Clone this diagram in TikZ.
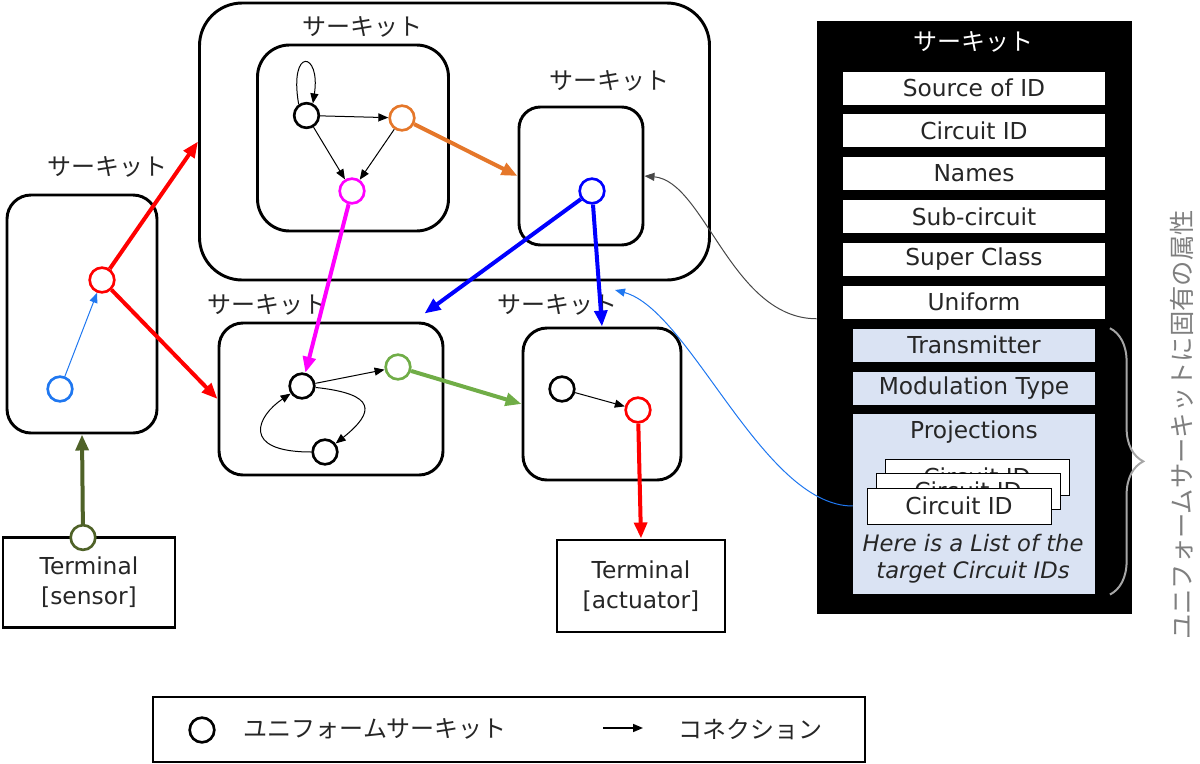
\documentclass[tikz,border=0pt]{standalone}
\usepackage{fontspec}
\setmainfont{DejaVu Sans}
\newfontfamily\jpfont{Noto Sans CJK JP}
\usetikzlibrary{arrows.meta,decorations.pathreplacing,fit}
\definecolor{ink}{HTML}{262626}
\definecolor{redc}{HTML}{FF0000}
\definecolor{orangec}{HTML}{E5772A}
\definecolor{magc}{HTML}{FF00FF}
\definecolor{bluec}{HTML}{0000FF}
\definecolor{ltblue}{HTML}{1F77F0}
\definecolor{greenc}{HTML}{70AD47}
\definecolor{olivec}{HTML}{4F6228}
\definecolor{rowblue}{HTML}{DAE3F3}
\definecolor{bracegray}{HTML}{A6A6A6}
\definecolor{notegray}{HTML}{7F7F7F}
\tikzset{
  flow/.style={
    -{Triangle[length=7.5pt,width=6pt]},
    draw=black,
    line width=0.75pt
  },
  bigflow/.style={
    -{Triangle[length=12pt,width=9.5pt]},
    line width=3pt
  },
  circuit/.style={
    draw,
    rounded corners=18pt,
    line width=2.2pt,
    inner sep=0pt
  },
  uc/.style={
    circle,
    draw=black,
    line width=2pt,
    fill=white,
    minimum size=18.5pt,
    inner sep=0pt
  },
  jplabel/.style={
    font=\jpfont\fontsize{18}{20}\selectfont,
    text=ink
  },
  attr/.style={
    fill=white,
    minimum width=196.5pt,
    minimum height=24.75pt,
    inner sep=0pt,
    font=\fontsize{17.5}{20}\selectfont,
    text=ink
  },
  uattr/.style={
    attr,
    fill=rowblue,
    minimum width=181.5pt
  },
  card/.style={
    draw=black,
    line width=0.75pt,
    fill=white,
    minimum width=138pt,
    minimum height=27pt,
    inner sep=0pt,
    font=\fontsize{17.5}{20}\selectfont,
    text=ink
  },
  terminal/.style={
    draw,
    line width=2.2pt,
    align=center,
    inner sep=0pt,
    font=\fontsize{17.5}{22.5}\selectfont,
    text=ink
  }
}

\begin{document}
\begin{tikzpicture}[x=0.75pt,y=-0.75pt]
  \useasboundingbox (0,0) rectangle (1200,764);

  % ------------------------------------------------------------
  % left circuit + sensor terminal
  % ------------------------------------------------------------
  \node[circuit, fit={(7,195) (157,433)}] (cirA) {};
  \node[jplabel] (cirA_lbl) at (107,167) {サーキット};
  \node[uc, draw=redc] (ucA1) at (102,280) {};
  \node[uc, draw=ltblue] (ucA2) at (60,389) {};

  \node[terminal, minimum width=129pt, minimum height=68pt]
       (termS) at (89,582.5) {Terminal\\{[sensor]}};
  \node[uc, draw=olivec] (ucS) at (83,537.5) {};

  % ------------------------------------------------------------
  % top group with two sub-circuits
  % ------------------------------------------------------------
  \node[circuit, rounded corners=32pt, fit={(199.5,3) (709.5,280)}] (grpTop) {};

  \node[circuit, rounded corners=24pt, fit={(257.5,45) (448.5,231)}] (cirB) {};
  \node[jplabel] (cirB_lbl) at (362,27) {サーキット};
  \node[uc] (ucB1) at (306.5,115.5) {};
  \node[uc, draw=orangec] (ucB2) at (402,118) {};
  \node[uc, draw=magc] (ucB3) at (352,191) {};

  \node[circuit, rounded corners=16pt, fit={(519,107) (643,245)}] (cirC) {};
  \node[jplabel] (cirC_lbl) at (609,81) {サーキット};
  \node[uc, draw=bluec] (ucC1) at (592,191) {};

  % ------------------------------------------------------------
  % middle circuits + actuator terminal
  % ------------------------------------------------------------
  \node[circuit, fit={(219,323) (443,475)}] (cirD) {};
  \node[jplabel] (cirD_lbl) at (267,305) {サーキット};
  \node[uc] (ucD1) at (302,386) {};
  \node[uc, draw=greenc] (ucD2) at (398,367) {};
  \node[uc] (ucD3) at (325,452) {};

  \node[circuit, fit={(523,328) (681,480)}] (cirE) {};
  \node[jplabel] (cirE_lbl) at (557,305) {サーキット};
  \node[uc] (ucE1) at (562,389) {};
  \node[uc, draw=redc] (ucE2) at (638,410) {};
  \coordinate (cirE_in) at (615,290);

  \node[terminal, minimum width=126pt, minimum height=69pt]
       (termA) at (641,586) {Terminal\\{[actuator]}};

  % ------------------------------------------------------------
  % attribute panel
  % ------------------------------------------------------------
  \node[fill=black, inner sep=0pt, fit={(817,21) (1132,614)}] (panel) {};
  \node[jplabel, text=white] (panel_ttl) at (973,42) {サーキット};

  \node[attr] (aSrc) at (974,88) {Source of ID};
  \node[attr] (aCid) at (974,130.8) {Circuit ID};
  \node[attr] (aNam) at (974,173.6) {Names};
  \node[attr] (aSub) at (974,216.4) {Sub-circuit};
  \node[attr] (aSup) at (974,259.2) {Super Class};
  \node[attr] (aUni) at (974,302) {Uniform};

  \node[uattr] (aTx) at (974,345) {Transmitter};
  \node[uattr] (aMod) at (974,388) {Modulation Type};
  \node[uattr, minimum height=135pt, anchor=north] (aPrj) at (974,414) {};
  \node[font=\fontsize{17.5}{20}\selectfont, text=ink] (aPrj_ttl) at (974,432) {Projections};

  % stacked cards: the front ones hide the back ones, as drawn
  \node[card] (card3) at (977,477) {Circuit ID};
  \node[card] (card2) at (968,491) {Circuit ID};
  \node[card] (card1) at (959,506) {Circuit ID};

  \node[align=center, font=\itshape\fontsize{17}{20.25}\selectfont, text=ink]
       (prjNote) at (973,558.5) {Here is a List of the\\target Circuit IDs};

  % brace + vertical note
  \draw[decorate, decoration={brace, amplitude=25pt}, draw=bracegray, line width=1.5pt]
       ([xshift=11pt]aTx.north east) -- ([xshift=11pt]aPrj.south east);
  \node[font=\jpfont\fontsize{19}{21}\selectfont, text=notegray, rotate=90]
       (attrNote) at (1182,425) {ユニフォームサーキットに固有の属性};

  % ------------------------------------------------------------
  % connections
  % ------------------------------------------------------------
  \draw[flow, draw=ltblue] (ucA2) -- (ucA1);
  \draw[bigflow, draw=redc] (ucA1) -- (grpTop.west);
  \draw[bigflow, draw=redc] (ucA1) -- (cirD.west);
  \draw[bigflow, draw=olivec] (ucS) -- (cirA.south);

  \draw[flow] (ucB1.125) .. controls +(-10,-58) and +(8,-52) .. (ucB1.62);
  \draw[flow] (ucB1) -- (ucB2);
  \draw[flow] (ucB1) -- (ucB3);
  \draw[flow] (ucB2) -- (ucB3);
  \draw[bigflow, draw=orangec] (ucB2) -- (cirC.west);
  \draw[bigflow, draw=magc] (ucB3) -- (ucD1);

  \draw[bigflow, draw=bluec] (ucC1) -- ([xshift=-15pt,yshift=6pt]cirD.north east);
  \draw[bigflow, draw=bluec] (ucC1) -- (cirE.north);

  \draw[flow] (ucD1) -- (ucD2);
  \draw[flow] (ucD1) .. controls +(75,8) and +(50,-40) .. (ucD3);
  \draw[flow] (ucD3) .. controls +(-85,0) and +(-45,30) .. (ucD1);
  \draw[bigflow, draw=greenc] (ucD2) -- (cirE.west);

  \draw[flow] (ucE1) -- (ucE2);
  \draw[bigflow, draw=redc] (ucE2) -- (termA.north);

  % panel -> circuits
  \draw[flow, draw=ink!85] (panel.west |- aUni.south)
       .. controls +(-85,0) and +(60,5) .. (cirC.east);
  \draw[flow, draw=ltblue] (aPrj.west |- card1)
       .. controls +(-90,0) and +(75,20) .. (cirE_in);

  % ------------------------------------------------------------
  % legend
  % ------------------------------------------------------------
  \node[draw, line width=1.5pt, inner sep=0pt, fit={(153,697) (865,762)}] (legend) {};
  \node[uc] (lgCirc) at (202,730) {};
  \node[jplabel, anchor=west] (lgCirc_txt) at (239,729) {ユニフォームサーキット};
  \coordinate (lgArrA) at (603,728);
  \coordinate (lgArrB) at (643,728);
  \draw[flow, line width=1.2pt] (lgArrA) -- (lgArrB);
  \node[jplabel, anchor=west] (lgConn_txt) at (674,729) {コネクション};
\end{tikzpicture}
\end{document}
